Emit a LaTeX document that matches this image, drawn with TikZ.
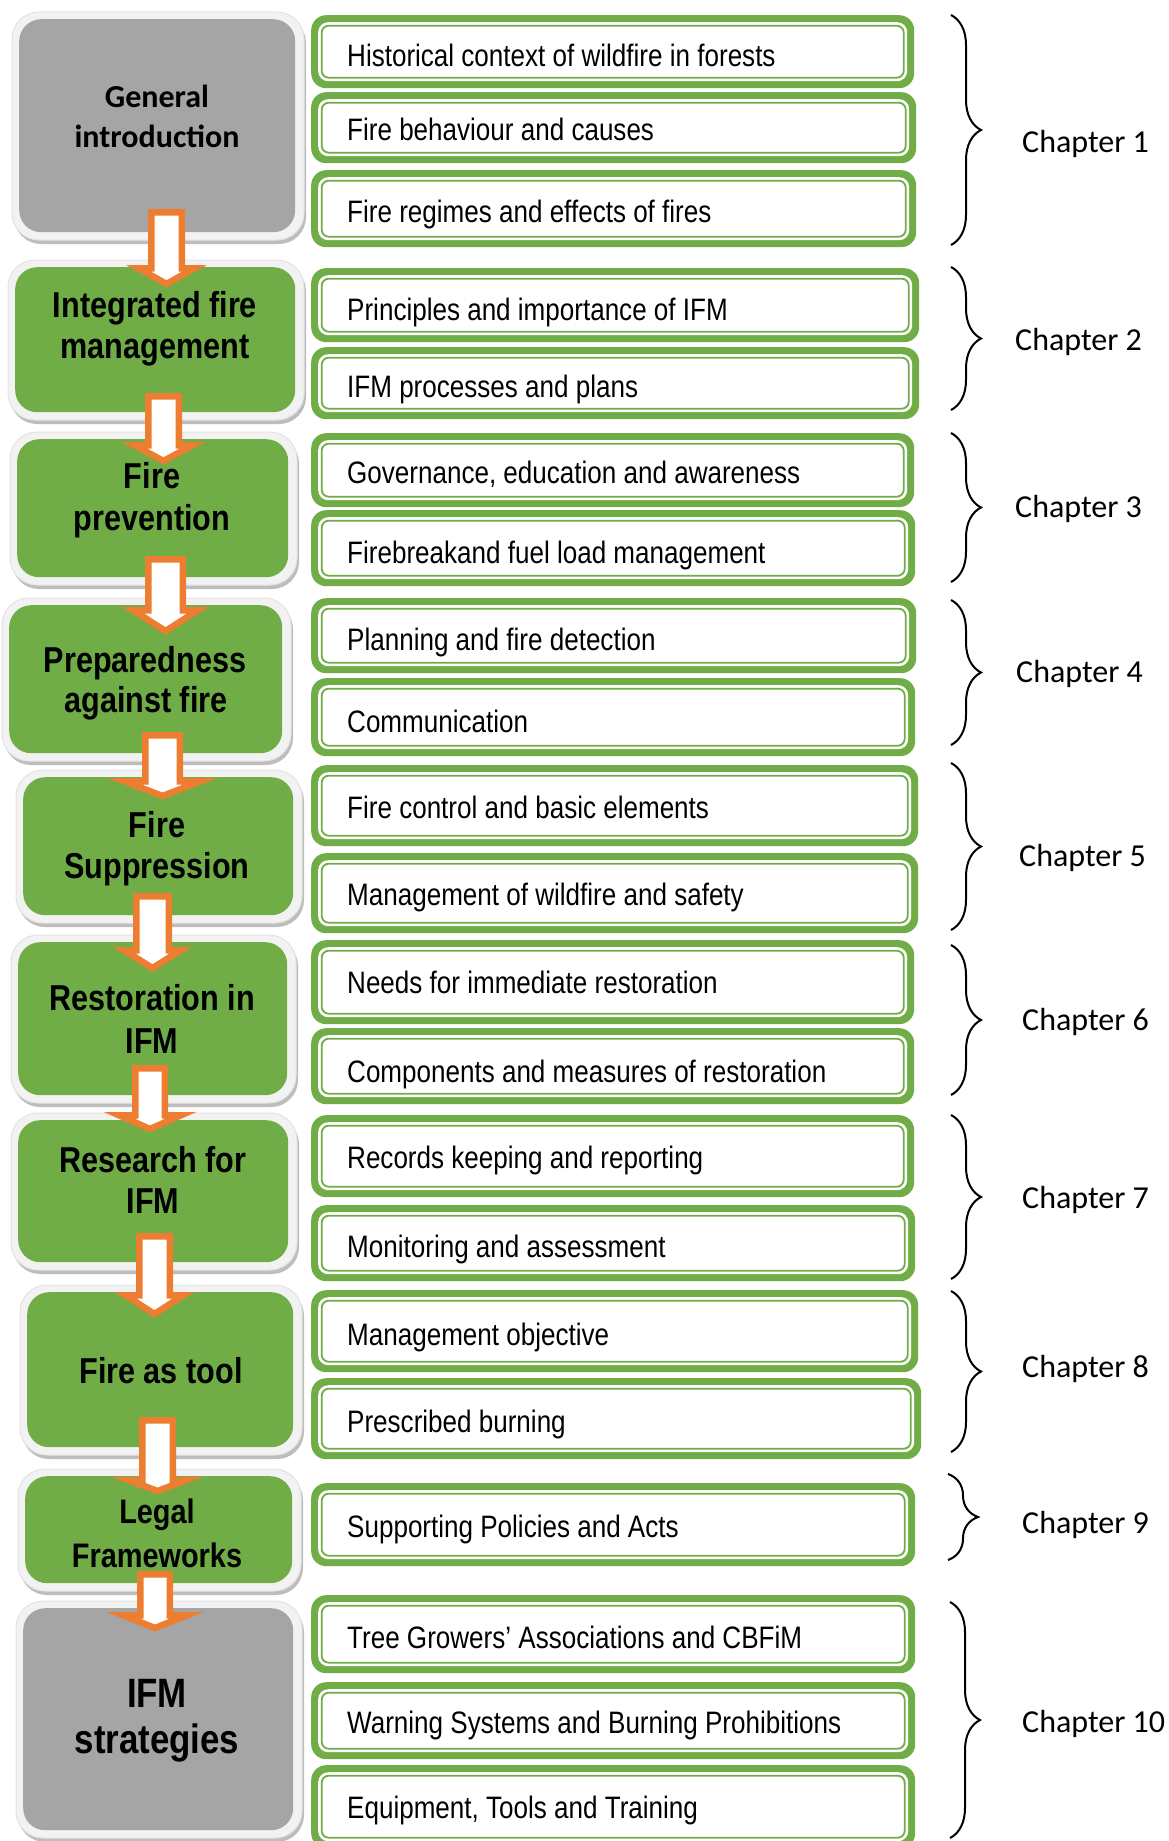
\documentclass[tikz,border=0pt]{standalone}
\usepackage{fontspec}
\usetikzlibrary{decorations.pathreplacing}
\newfontfamily\rtextfont{Liberation Sans}[FakeStretch=0.84]
\newfontfamily\lblfont{Liberation Sans}[FakeStretch=0.85]
\newfontfamily\calib{Carlito}
\definecolor{ifmgreen}{HTML}{70AD47}
\definecolor{ifmorange}{HTML}{ED7D31}
\definecolor{ifmgray}{HTML}{A5A5A5}
\definecolor{framegray}{HTML}{F2F2F2}
\definecolor{frameedge}{HTML}{E3E3E3}
\definecolor{shadowgray}{HTML}{BDBDBD}
\tikzset{
  rframe/.style={fill=ifmgreen, rounded corners=15pt, inner sep=0pt,
    path picture={
      \fill[white, rounded corners=10pt]
        ([xshift=7pt,yshift=-7pt]path picture bounding box.north west) rectangle
        ([xshift=-7pt,yshift=7pt]path picture bounding box.south east);
      \draw[ifmgreen, line width=1.8pt, rounded corners=7pt]
        ([xshift=10.5pt,yshift=-10.5pt]path picture bounding box.north west) rectangle
        ([xshift=-10.5pt,yshift=10.5pt]path picture bounding box.south east);
    }},
  rtext/.style={font=\rtextfont\fontsize{31}{37}\selectfont, anchor=base west, inner sep=0pt},
  lbox/.style={rounded corners=22pt, inner sep=0pt},
  lframe/.style={fill=framegray, draw=frameedge, line width=1pt},
  lshadow/.style={fill=shadowgray},
  ltext/.style={font=\lblfont\bfseries\fontsize{36}{43}\selectfont, anchor=base, inner sep=0pt},
  gtext/.style={font=\calib\bfseries\fontsize{32}{38}\selectfont, anchor=base, inner sep=0pt},
  chap/.style={font=\calib\fontsize{32}{38}\selectfont, anchor=base west, inner sep=0pt},
  blockarr/.style={draw=ifmorange, fill=white, line width=6.5pt, line join=miter},
  bracestyle/.style={draw=black, line width=2pt, decorate, decoration={brace, amplitude=30pt}}
}
\newcommand\leftbox[6]{%
  \fill[lshadow, rounded corners=27pt] (#2-7+2,#3-7+4) rectangle (#4+9+2,#5+8+4);
  \filldraw[lframe, rounded corners=27pt] (#2-7,#3-7) rectangle (#4+9,#5+8);
  \node[lbox, fill=#6, minimum width=#4-#2, minimum height=#5-#3, anchor=north west] (#1) at (#2,#3) {};
}
\newcommand\rightbox[6]{%
  \node[rframe, minimum width=#4-311, minimum height=#3-#2, anchor=north west] (#1) at (311,#2) {};
  \node[rtext] (#1t) at (347,#5) {#6};
}
\newcommand\blockarrow[6]{%
  \draw[blockarr] (#1-#2+3.25,#3+3.25) -- (#1+#2-3.25,#3+3.25) -- (#1+#2-3.25,#4+3.25)
    -- (#1+#6-12,#4+3.25) -- (#1,#5-4) -- (#1-#6+12,#4+3.25) -- (#1-#2+3.25,#4+3.25) -- cycle;
}
\begin{document}
\begin{tikzpicture}[x=1pt,y=-1pt]
\useasboundingbox (0,0) rectangle (1169,1841);
\fill[white] (0,0) rectangle (1169,1841);

% ---------- left column boxes ----------
\leftbox{gen}{19}{19}{295}{232}{ifmgray}
\leftbox{ifm}{15}{267}{295}{412}{ifmgreen}
\leftbox{prev}{17}{439}{288}{577}{ifmgreen}
\leftbox{prep}{9}{605}{282}{753}{ifmgreen}
\leftbox{supp}{23}{777}{293}{915}{ifmgreen}
\leftbox{rest}{18}{942}{287}{1095}{ifmgreen}
\leftbox{res}{18}{1120}{288}{1262}{ifmgreen}
\leftbox{tool}{27}{1292}{293}{1447}{ifmgreen}
\leftbox{legal}{25}{1476}{292}{1583}{ifmgreen}
\leftbox{strat}{23}{1608}{293}{1830}{ifmgray}

% ---------- arrows ----------
\blockarrow{166.5}{18.5}{209}{265}{288}{40}
\blockarrow{163.5}{18.5}{393}{442}{465}{41}
\blockarrow{165.5}{20.5}{556}{607}{635}{44.5}
\blockarrow{162.5}{20.5}{732}{778}{800}{50}
\blockarrow{152.5}{19.5}{893}{947}{972}{40.5}
\blockarrow{150}{18}{1065}{1112}{1133}{43}
\blockarrow{154.5}{18.5}{1233}{1292}{1318}{41}
\blockarrow{157.5}{18.5}{1417}{1477}{1495}{40.5}
\blockarrow{155}{18}{1571}{1612}{1632}{44}

% ---------- left labels ----------
\node[gtext] (gen1) at (157,108) {General};
\node[gtext] (gen2) at (157,147) {introduction};
\node[ltext] (ifm1) at (155,317) {Integrated fire};
\node[ltext] (ifm2) at (155,358) {management};
\node[ltext] (prev1) at (152,488) {Fire};
\node[ltext] (prev2) at (152,530) {prevention};
\node[ltext] (prep1) at (145,672) {Preparedness};
\node[ltext] (prep2) at (146,712) {against fire};
\node[ltext] (supp1) at (157,837) {Fire};
\node[ltext] (supp2) at (157,878) {Suppression};
\node[ltext] (rest1) at (152,1010) {Restoration in};
\node[ltext] (rest2) at (152,1053) {IFM};
\node[ltext] (res1) at (153,1172) {Research for};
\node[ltext] (res2) at (153,1213) {IFM};
\node[ltext] (tool1) at (161,1383) {Fire as tool};
\node[ltext, font=\lblfont\bfseries\fontsize{34}{40}\selectfont] (legal1) at (157,1523) {Legal};
\node[ltext, font=\lblfont\bfseries\fontsize{34}{40}\selectfont] (legal2) at (157,1567) {Frameworks};
\node[ltext, font=\lblfont\bfseries\fontsize{41}{48}\selectfont] (strat1) at (157,1707) {IFM};
\node[ltext, font=\lblfont\bfseries\fontsize{41}{48}\selectfont] (strat2) at (157,1753) {strategies};

% ---------- right column boxes ----------
\rightbox{r1a}{15}{88}{914}{67}{Historical context of wildfire in forests}
\rightbox{r1b}{92}{163}{916}{140}{Fire behaviour and causes}
\rightbox{r1c}{170}{247}{916}{222}{Fire regimes and effects of fires}
\rightbox{r2a}{268}{342}{919}{320}{Principles and importance of IFM}
\rightbox{r2b}{347}{419}{919}{397}{IFM processes and plans}
\rightbox{r3a}{433}{507}{914}{483}{Governance, education and awareness}
\rightbox{r3b}{510}{586}{915}{563}{Firebreakand fuel load management}
\rightbox{r4a}{598}{673}{916}{650}{Planning and fire detection}
\rightbox{r4b}{678}{756}{915}{732}{Communication}
\rightbox{r5a}{765}{846}{918}{818}{Fire control and basic elements}
\rightbox{r5b}{853}{933}{918}{905}{Management of wildfire and safety}
\rightbox{r6a}{940}{1024}{914}{993}{Needs for immediate restoration}
\rightbox{r6b}{1028}{1104}{914}{1082}{Components and measures of restoration}
\rightbox{r7a}{1115}{1197}{914}{1168}{Records keeping and reporting}
\rightbox{r7b}{1205}{1281}{915}{1257}{Monitoring and assessment}
\rightbox{r8a}{1290}{1372}{918}{1345}{Management objective}
\rightbox{r8b}{1378}{1459}{921}{1432}{Prescribed burning}
\rightbox{r9a}{1483}{1566}{915}{1537}{Supporting Policies and Acts}
\rightbox{r10a}{1595}{1673}{915}{1648}{Tree Growers’ Associations and CBFiM}
\rightbox{r10b}{1682}{1759}{915}{1733}{Warning Systems and Burning Prohibitions}
\rightbox{r10c}{1765}{1848}{915}{1818}{Equipment, Tools and Training}

% ---------- braces ----------
\coordinate (b1t) at (951,15);   \coordinate (b1b) at (951,245);
\coordinate (b2t) at (951,267);  \coordinate (b2b) at (951,410);
\coordinate (b3t) at (951,433);  \coordinate (b3b) at (951,582);
\coordinate (b4t) at (951,600);  \coordinate (b4b) at (951,745);
\coordinate (b5t) at (951,763);  \coordinate (b5b) at (951,930);
\coordinate (b6t) at (951,945);  \coordinate (b6b) at (951,1095);
\coordinate (b7t) at (951,1115); \coordinate (b7b) at (951,1279);
\coordinate (b8t) at (951,1291); \coordinate (b8b) at (951,1452);
\coordinate (b9t) at (948,1474); \coordinate (b9b) at (948,1560);
\coordinate (b10t) at (950,1602); \coordinate (b10b) at (950,1838);
\foreach \i in {1,...,10} {\draw[bracestyle] (b\i t) -- (b\i b);}

% ---------- chapter labels ----------
\node[chap] (c1) at (1022,153) {Chapter 1};
\node[chap] (c2) at (1015,350) {Chapter 2};
\node[chap] (c3) at (1015,517) {Chapter 3};
\node[chap] (c4) at (1016,682) {Chapter 4};
\node[chap] (c5) at (1019,866) {Chapter 5};
\node[chap] (c6) at (1022,1030) {Chapter 6};
\node[chap] (c7) at (1022,1208) {Chapter 7};
\node[chap] (c8) at (1022,1377) {Chapter 8};
\node[chap] (c9) at (1022,1533) {Chapter 9};
\node[chap] (c10) at (1022,1732) {Chapter 10};
\end{tikzpicture}
\end{document}
